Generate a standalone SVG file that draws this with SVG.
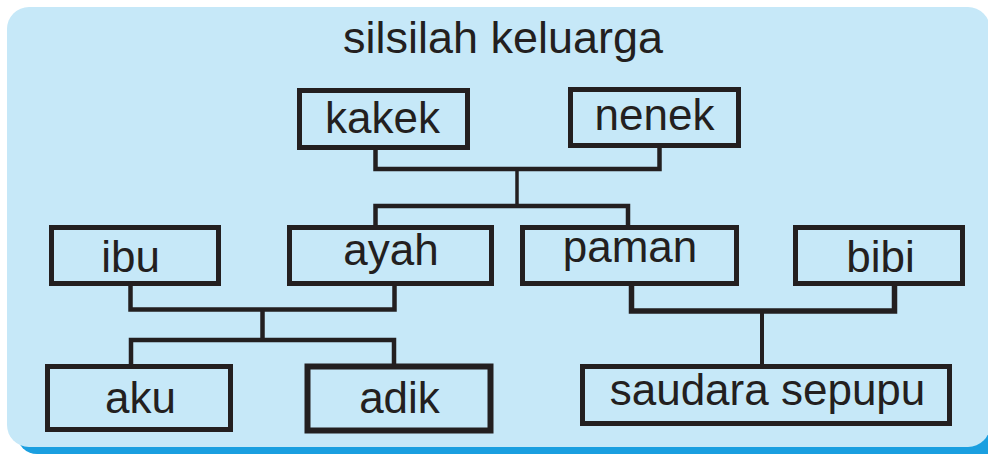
<svg xmlns="http://www.w3.org/2000/svg" width="988" height="454" viewBox="0 0 988 454">
<style>
.box{fill:none;stroke:#231f20;stroke-width:5}
.lbl{font-family:"Liberation Sans",Arial,sans-serif;font-size:44px;fill:#231f20;text-anchor:middle}
.con{fill:none;stroke:#231f20;stroke-width:4.5;stroke-linejoin:miter;stroke-linecap:butt}
</style>
<rect width="988" height="454" fill="#ffffff"/>
<rect x="17" y="20" width="990" height="434" rx="20" fill="#1a9fe0"/>
<rect x="7" y="7" width="983" height="440" rx="22" fill="#c6e8f8"/>
<text x="503" y="53" class="lbl" font-size="45" style="font-size:45px" textLength="320" lengthAdjust="spacingAndGlyphs">silsilah keluarga</text>
<g id="connectors">
<path class="con" d="M375.5 150 V169 H659.5 V148"/>
<path class="con" d="M517 169 V206" style="stroke-width:3.5"/>
<path class="con" d="M375.5 226 V206 H628 V226"/>
<path class="con" d="M130.5 286 V309.5 H394.5 V286"/>
<path class="con" d="M262.5 309.5 V340"/>
<path class="con" d="M131 365 V340 H394 V365"/>
<path class="con" d="M631.5 286 V311 H894.5 V286" style="stroke-width:5.5"/>
<path class="con" d="M762 311 V365" style="stroke-width:4"/>
</g>
<g id="kakek"><rect class="box" x="299.5" y="90.5" width="168" height="57"/><text class="lbl" x="382.5" y="133">kakek</text></g>
<g id="nenek"><rect class="box" x="570.5" y="89.5" width="168" height="56"/><text class="lbl" x="654.5" y="130">nenek</text></g>
<g id="ibu"><rect class="box" x="51.5" y="227.5" width="167" height="56"/><text class="lbl" x="130.5" y="272">ibu</text></g>
<g id="ayah"><rect class="box" x="289.5" y="227.5" width="202" height="56"/><text class="lbl" x="391" y="265">ayah</text></g>
<g id="paman"><rect class="box" x="522.5" y="227.5" width="214" height="56"/><text class="lbl" x="630" y="262">paman</text></g>
<g id="bibi"><rect class="box" x="795.5" y="227.5" width="167" height="56"/><text class="lbl" x="880.5" y="272">bibi</text></g>
<g id="aku"><rect class="box" x="47.5" y="366.5" width="183" height="63"/><text class="lbl" x="140.5" y="413">aku</text></g>
<g id="adik"><rect class="box" x="307.5" y="366.5" width="183" height="64" style="stroke-width:6"/><text class="lbl" x="399.5" y="413">adik</text></g>
<g id="saudara-sepupu"><rect class="box" x="582.5" y="366.5" width="367" height="57"/><text class="lbl" x="767.5" y="405">saudara sepupu</text></g>
</svg>
